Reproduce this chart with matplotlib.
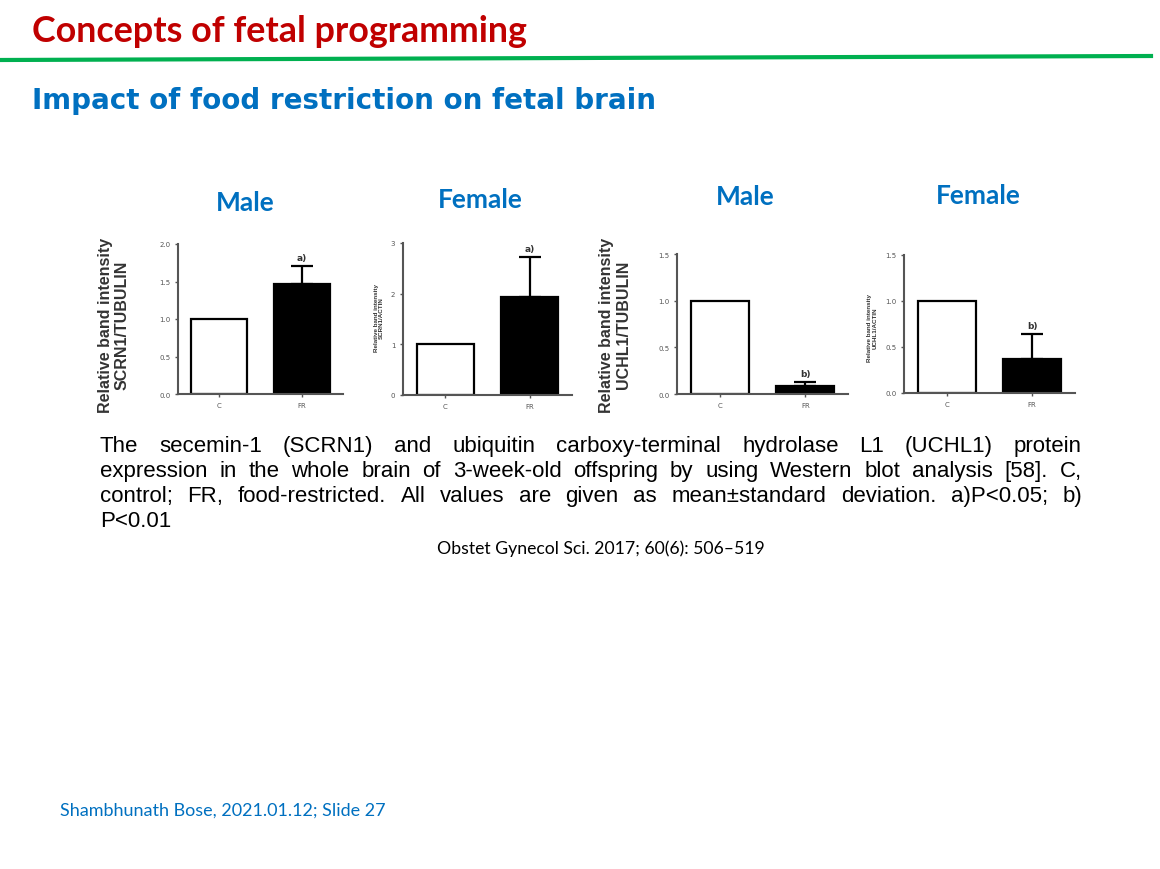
import matplotlib.pyplot as plt

## values (C = control, FR = food-restricted)
groups = ['C', 'FR']

scrn1_tubulin = [1.0, 1.47]
scrn1_tubulin_sd = [0.0, 0.24]
scrn1_actin = [1.0, 1.93]
scrn1_actin_sd = [0.0, 0.80]
uchl1_tubulin = [1.0, 0.09]
uchl1_tubulin_sd = [0.0, 0.04]
uchl1_actin = [1.0, 0.37]
uchl1_actin_sd = [0.0, 0.27]

panel_titles = ['Male', 'Female', 'Male', 'Female']
ylabels = ['Relative band intensity\nSCRN1/TUBULIN',
           'Relative band intensity\nSCRN1/ACTIN',
           'Relative band intensity\nUCHL1/TUBULIN',
           'Relative band intensity\nUCHL1/ACTIN']
yticks_1 = [0.0, 0.5, 1.0, 1.5, 2.0]
yticklabels_1 = ['0.0', '0.5', '1.0', '1.5', '2.0']
yticks_2 = [0, 1, 2, 3]
yticklabels_2 = ['0', '1', '2', '3']
yticks_3 = [0.0, 0.5, 1.0, 1.5]
yticklabels_3 = ['0.0', '0.5', '1.0', '1.5']
sig_marks = ['a)', 'a)', 'b)', 'b)']

caption_lines = [
    'The secemin-1 (SCRN1) and ubiquitin carboxy-terminal hydrolase L1 (UCHL1) protein',
    'expression in the whole brain of 3-week-old offspring by using Western blot analysis [58]. C,',
    'control; FR, food-restricted. All values are given as mean\u00b1standard deviation. a)P<0.05; b)',
    'P<0.01',
]

W, H = 1160, 870
RED = '#c00000'
BLUE = '#0070c0'
GREEN = '#00b050'


def fx(px):
    return px / W


def fy(py):
    return 1 - py / H


fig = plt.figure(figsize=(W / 100, H / 100), dpi=100)

# header
fig.text(fx(32), fy(31), 'Concepts of fetal programming', color=RED,
         fontsize=25.8, fontweight='bold', family='Lato', va='center', ha='left')
fig.add_artist(plt.Line2D([0, fx(1151)], [fy(61), fy(57)], color=GREEN, lw=3,
                          transform=fig.transFigure))
fig.text(fx(32), fy(101), 'Impact of food restriction on fetal brain', color=BLUE,
         fontsize=20, fontweight='bold', family='DejaVu Sans', va='center', ha='left')

###panels#########################################################
panels = [
    (scrn1_tubulin, scrn1_tubulin_sd, (0, 2), yticks_1, yticklabels_1),
    (scrn1_actin, scrn1_actin_sd, (0, 3), yticks_2, yticklabels_2),
    (uchl1_tubulin, uchl1_tubulin_sd, (0, 1.5), yticks_3, yticklabels_3),
    (uchl1_actin, uchl1_actin_sd, (0, 1.5), yticks_3, yticklabels_3),
]
boxes = [(178, 245, 343, 395), (403, 244, 572, 396),
         (677, 255, 848, 395), (904, 256, 1075, 394)]
title_pos = [(245, 203), (480, 200), (745, 197), (978, 196)]
ylabel_pos = [(114, 325, 11.5, 'bold'), (379, 318, 4.5, 'bold'),
              (615, 325, 11.5, 'bold'), (872, 328, 4.5, 'bold')]

for i, (vals, sd, ylim, yt, ytl) in enumerate(panels):
    l, t, r, b = boxes[i]
    ax = fig.add_axes([fx(l), fy(b), fx(r) - fx(l), fy(t) - fy(b)])
    x = [0, 1]
    ax.bar(x, vals, width=0.68, color=['white', 'black'], edgecolor='black',
           linewidth=1.6, zorder=2)
    ax.errorbar([1], [vals[1]], yerr=[[0], [sd[1]]], fmt='none', ecolor='black',
                elinewidth=1.6, capsize=8, capthick=1.6, zorder=1)
    ax.annotate(sig_marks[i], (1, vals[1] + sd[1]), xytext=(0, 3),
                textcoords='offset points', ha='center', va='bottom',
                fontsize=6.5, fontweight='bold', color='#333333')
    ax.set_xlim(-0.5, 1.5)
    ax.set_ylim(*ylim)
    ax.set_yticks(yt)
    ax.set_yticklabels(ytl)
    ax.set_xticks(x)
    ax.set_xticklabels(groups)
    ax.tick_params(labelsize=5, labelcolor='#555555', length=2.5, width=1,
                   color='#555555', pad=3)
    for s in ['top', 'right']:
        ax.spines[s].set_visible(False)
    for s in ['left', 'bottom']:
        ax.spines[s].set_linewidth(1.5)
        ax.spines[s].set_color('#555555')
    ax.patch.set_alpha(0)

    tx, ty = title_pos[i]
    fig.text(fx(tx), fy(ty), panel_titles[i], color=BLUE, fontsize=19,
             fontweight='bold', family='Lato', ha='center', va='center')
    lx, ly, lfs, lw = ylabel_pos[i]
    fig.text(fx(lx), fy(ly), ylabels[i], rotation=90, ha='center', va='center',
             fontsize=lfs, fontweight=lw, color='#333333', family='Liberation Sans',
             multialignment='center', linespacing=1.15)

###caption, justified by hand######################################
renderer = fig.canvas.get_renderer()
x_left, x_right = 100, 1082
baselines = [452, 477, 502, 527]
for n, line in enumerate(caption_lines):
    words = line.split(' ')
    txts = [fig.text(0, fy(baselines[n]), w, fontsize=16, family='Liberation Sans',
                     va='baseline', ha='left', color='black') for w in words]
    widths = [t.get_window_extent(renderer).width for t in txts]
    if n < len(caption_lines) - 1 and len(words) > 1:
        gap = (x_right - x_left - sum(widths)) / (len(words) - 1)
    else:
        gap = 5
    xpos = x_left
    for t, w in zip(txts, widths):
        t.set_x(fx(xpos))
        xpos += w + gap

fig.text(fx(601), fy(554), 'Obstet Gynecol Sci. 2017; 60(6): 506\u2013519', fontsize=12.7,
         family='Lato', ha='center', va='baseline', color='black')
fig.text(fx(60), fy(816), 'Shambhunath Bose, 2021.01.12; Slide 27', fontsize=13,
         family='Lato', ha='left', va='baseline', color=BLUE)

fig.savefig('out.png', dpi=100)
